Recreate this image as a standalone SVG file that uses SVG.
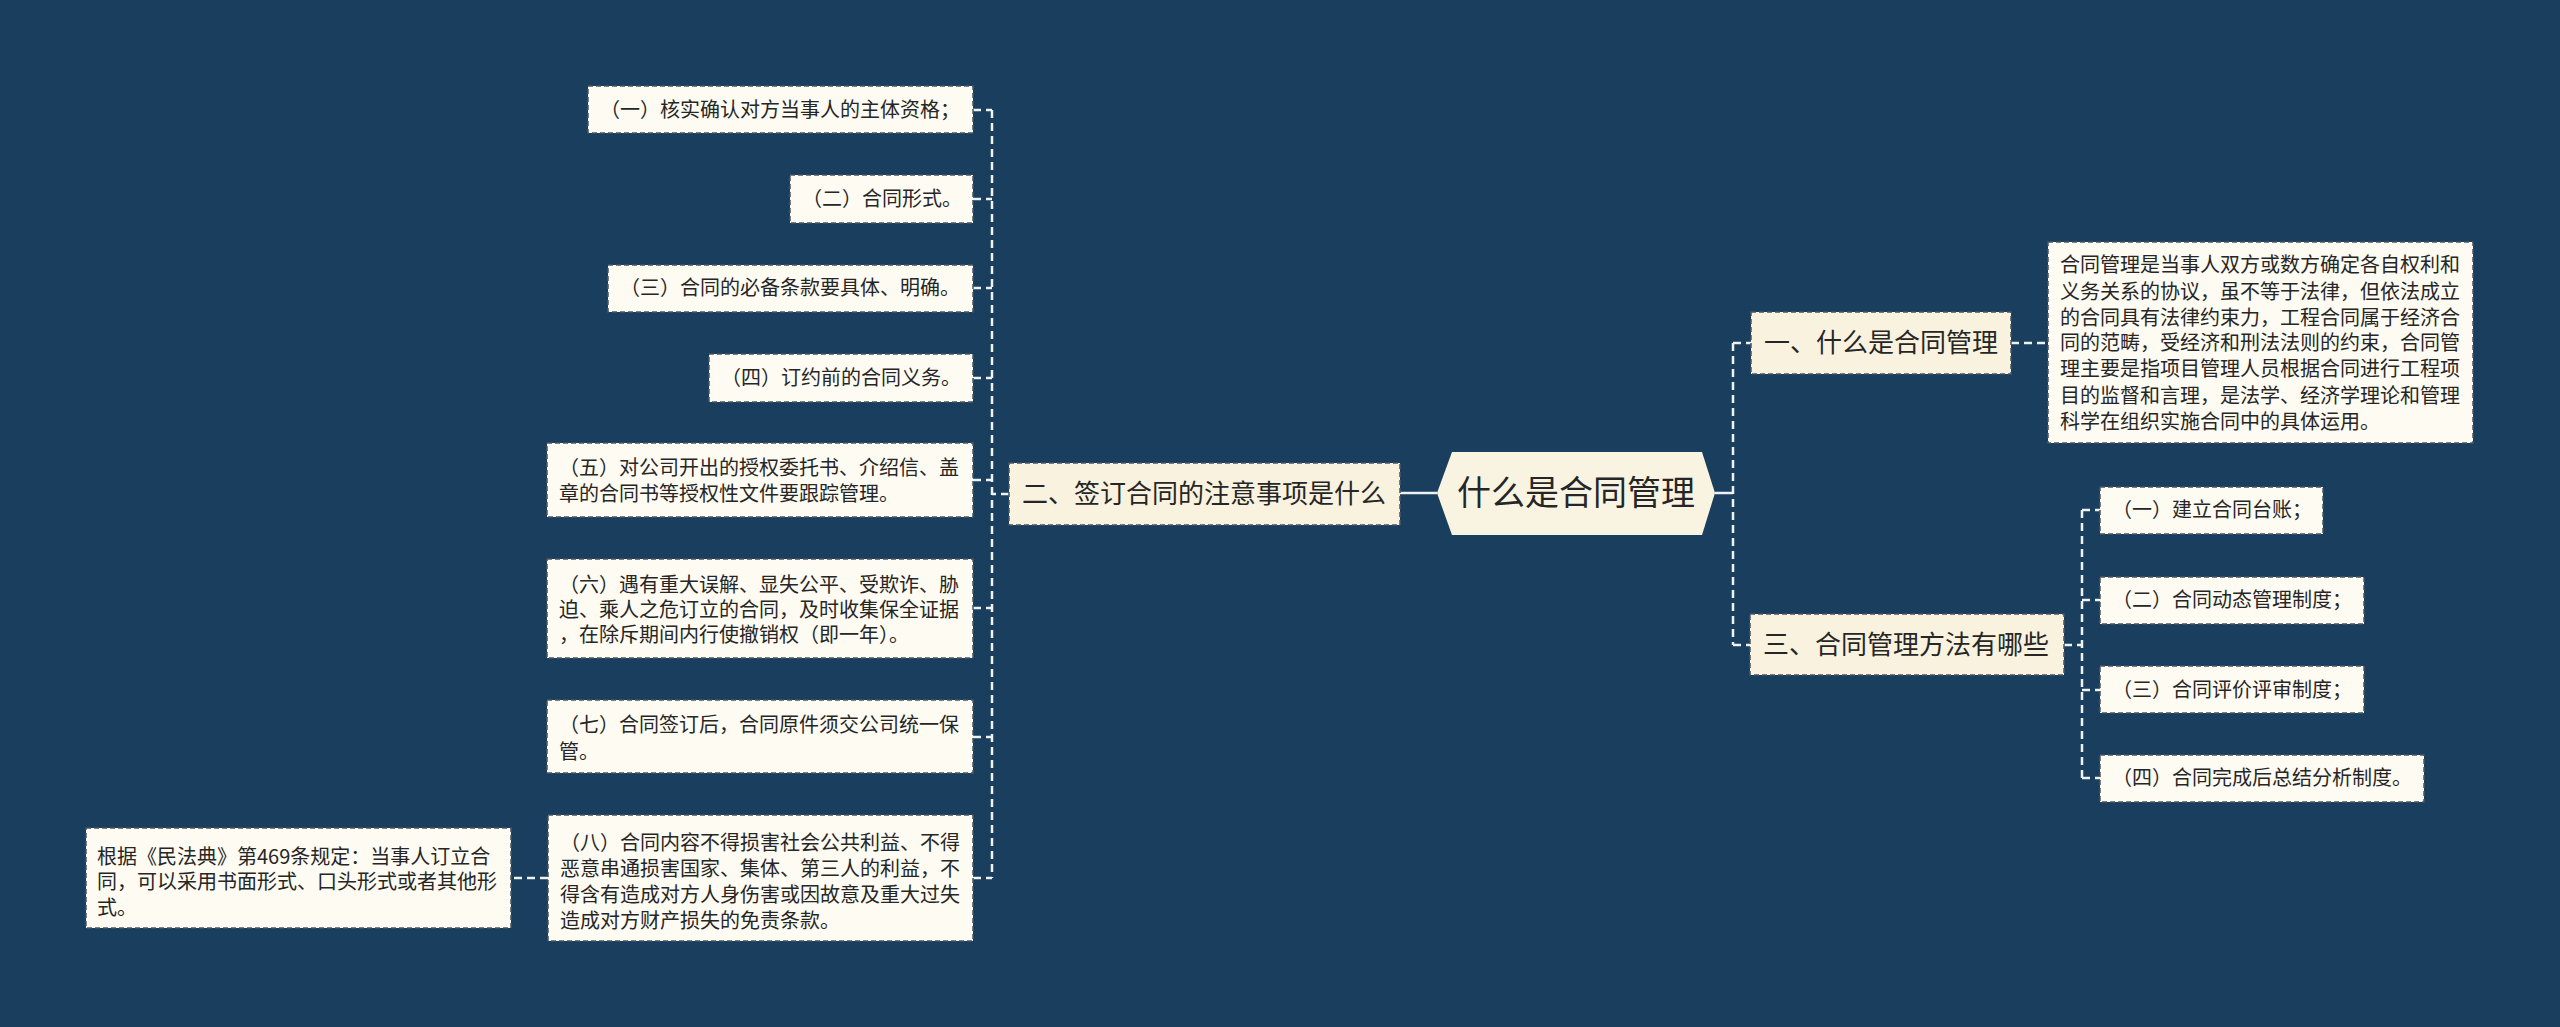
<svg xmlns="http://www.w3.org/2000/svg" width="2560" height="1027" viewBox="0 0 2560 1027">
<style>
.bg{fill:#1a3e5d}
.leaf{fill:#fdfbf2;stroke:#4a5560;stroke-width:1.5;stroke-dasharray:5 3}
.main{fill:#f8f2df;stroke:#4a5560;stroke-width:1.5;stroke-dasharray:5 3}
.root{fill:#f9f4e2}
.t20{font-family:"Noto Sans CJK SC","Microsoft YaHei",sans-serif;font-size:20px;fill:#262626}
.t26{font-family:"Noto Sans CJK SC","Microsoft YaHei",sans-serif;font-size:26px;fill:#262626}
.t34{font-family:"Noto Sans CJK SC","Microsoft YaHei",sans-serif;font-size:34px;fill:#262626}
.dash{fill:none;stroke:#eef2f4;stroke-width:2.5;stroke-dasharray:8 5}
.solid{fill:none;stroke:#eef2f4;stroke-width:2.5}
</style>
<rect class="bg" x="0" y="0" width="2560" height="1027"/>

<g id="connectors">
  <line class="solid" x1="1400" y1="493" x2="1437" y2="493"/>
  <line class="solid" x1="1715" y1="493" x2="1733" y2="493"/>
  <path class="dash" d="M992 110 V878"/>
  <path class="dash" d="M1009 494 H992"/>
  <path class="dash" d="M973 110 H992"/>
  <path class="dash" d="M973 199 H992"/>
  <path class="dash" d="M973 288 H992"/>
  <path class="dash" d="M973 378 H992"/>
  <path class="dash" d="M973 480 H992"/>
  <path class="dash" d="M973 608 H992"/>
  <path class="dash" d="M973 737 H992"/>
  <path class="dash" d="M973 878 H992"/>
  <path class="dash" d="M548 878 H511"/>
  <path class="dash" d="M1733 343 V645"/>
  <path class="dash" d="M1733 343 H1751"/>
  <path class="dash" d="M1733 645 H1750"/>
  <path class="dash" d="M2011 343 H2048"/>
  <path class="dash" d="M2082 510 V778"/>
  <path class="dash" d="M2064 645 H2082"/>
  <path class="dash" d="M2082 510 H2100"/>
  <path class="dash" d="M2082 600 H2100"/>
  <path class="dash" d="M2082 690 H2100"/>
  <path class="dash" d="M2082 778 H2100"/>
</g>

<g id="root">
  <polygon class="root" points="1437,493 1452,452 1702,452 1715,493 1702,535 1452,535"/>
  <text class="t34" x="1576" y="505" text-anchor="middle">什么是合同管理</text>
</g>

<g id="n2">
  <rect class="main" x="1009" y="463" width="391" height="62"/>
  <text class="t26" x="1022" y="503">二、签订合同的注意事项是什么</text>
</g>
<g id="n1">
  <rect class="main" x="1751" y="312" width="260" height="62"/>
  <text class="t26" x="1764" y="352">一、什么是合同管理</text>
</g>
<g id="n3">
  <rect class="main" x="1750" y="614" width="314" height="61"/>
  <text class="t26" x="1763" y="654">三、合同管理方法有哪些</text>
</g>

<g id="l1">
  <rect class="leaf" x="588" y="86" width="385" height="47"/>
  <text class="t20" x="600" y="117">（一）核实确认对方当事人的主体资格；</text>
</g>
<g id="l2">
  <rect class="leaf" x="790" y="175" width="183" height="48"/>
  <text class="t20" x="802" y="206">（二）合同形式。</text>
</g>
<g id="l3">
  <rect class="leaf" x="608" y="265" width="365" height="47"/>
  <text class="t20" x="620" y="295">（三）合同的必备条款要具体、明确。</text>
</g>
<g id="l4">
  <rect class="leaf" x="709" y="354" width="264" height="48"/>
  <text class="t20" x="721" y="385">（四）订约前的合同义务。</text>
</g>
<g id="l5">
  <rect class="leaf" x="547" y="443" width="426" height="74"/>
  <text class="t20" x="559" y="475">（五）对公司开出的授权委托书、介绍信、盖</text>
  <text class="t20" x="559" y="501">章的合同书等授权性文件要跟踪管理。</text>
</g>
<g id="l6">
  <rect class="leaf" x="547" y="559" width="426" height="99"/>
  <text class="t20" x="559" y="592">（六）遇有重大误解、显失公平、受欺诈、胁</text>
  <text class="t20" x="559" y="617">迫、乘人之危订立的合同，及时收集保全证据</text>
  <text class="t20" x="559" y="642">，在除斥期间内行使撤销权（即一年）。</text>
</g>
<g id="l7">
  <rect class="leaf" x="547" y="700" width="426" height="73"/>
  <text class="t20" x="559" y="732">（七）合同签订后，合同原件须交公司统一保</text>
  <text class="t20" x="559" y="759">管。</text>
</g>
<g id="l8">
  <rect class="leaf" x="548" y="815" width="425" height="126"/>
  <text class="t20" x="560" y="850">（八）合同内容不得损害社会公共利益、不得</text>
  <text class="t20" x="560" y="876">恶意串通损害国家、集体、第三人的利益，不</text>
  <text class="t20" x="560" y="902">得含有造成对方人身伤害或因故意及重大过失</text>
  <text class="t20" x="560" y="928">造成对方财产损失的免责条款。</text>
</g>
<g id="l9">
  <rect class="leaf" x="86" y="828" width="425" height="100"/>
  <text class="t20" x="97" y="864">根据《民法典》第469条规定：当事人订立合</text>
  <text class="t20" x="97" y="889">同，可以采用书面形式、口头形式或者其他形</text>
  <text class="t20" x="97" y="915">式。</text>
</g>

<g id="r0">
  <rect class="leaf" x="2048" y="242" width="425" height="201"/>
  <text class="t20" x="2060" y="272">合同管理是当事人双方或数方确定各自权利和</text>
  <text class="t20" x="2060" y="299">义务关系的协议，虽不等于法律，但依法成立</text>
  <text class="t20" x="2060" y="325">的合同具有法律约束力，工程合同属于经济合</text>
  <text class="t20" x="2060" y="350">同的范畴，受经济和刑法法则的约束，合同管</text>
  <text class="t20" x="2060" y="376">理主要是指项目管理人员根据合同进行工程项</text>
  <text class="t20" x="2060" y="403">目的监督和言理，是法学、经济学理论和管理</text>
  <text class="t20" x="2060" y="429">科学在组织实施合同中的具体运用。</text>
</g>
<g id="r1">
  <rect class="leaf" x="2100" y="487" width="223" height="47"/>
  <text class="t20" x="2112" y="517">（一）建立合同台账；</text>
</g>
<g id="r2">
  <rect class="leaf" x="2100" y="577" width="264" height="47"/>
  <text class="t20" x="2112" y="607">（二）合同动态管理制度；</text>
</g>
<g id="r3">
  <rect class="leaf" x="2100" y="666" width="264" height="47"/>
  <text class="t20" x="2112" y="697">（三）合同评价评审制度；</text>
</g>
<g id="r4">
  <rect class="leaf" x="2100" y="755" width="324" height="47"/>
  <text class="t20" x="2112" y="785">（四）合同完成后总结分析制度。</text>
</g>
</svg>
